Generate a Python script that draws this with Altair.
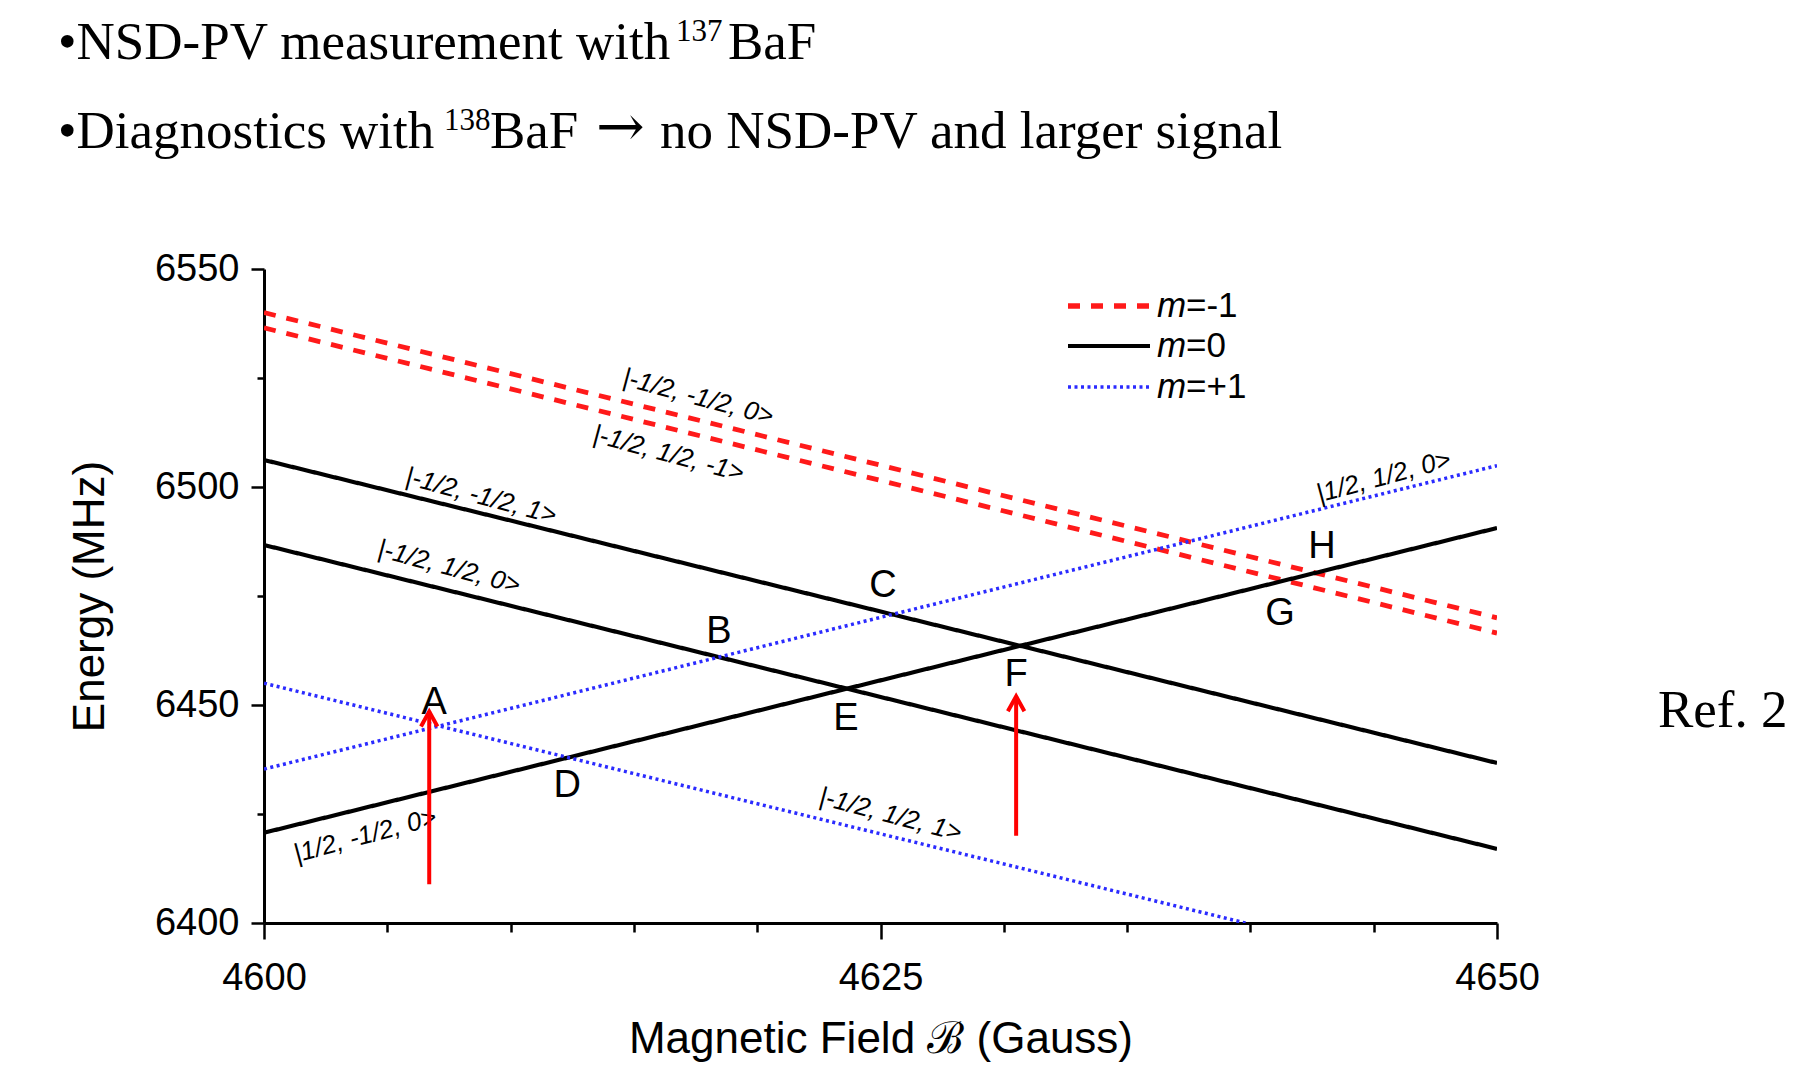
import altair as alt
import pandas as pd

# ---------------- data ----------------
x_domain = [4600, 4650]
y_domain = [6400, 6550]
x_ticks = [4600, 4605, 4610, 4615, 4620, 4625, 4630, 4635, 4640, 4645, 4650]
y_ticks = [6400, 6425, 6450, 6475, 6500, 6525, 6550]

level_names = ["|-1/2, -1/2, 0>", "|-1/2, 1/2, -1>", "|-1/2, -1/2, 1>", "|-1/2, 1/2, 0>",
               "|1/2, -1/2, 0>", "|1/2, 1/2, 0>", "|-1/2, 1/2, 1>"]
level_m = ["m=-1", "m=-1", "m=0", "m=0", "m=0", "m=+1", "m=+1"]
level_b0 = [4600, 4600, 4600, 4600, 4600, 4600, 4600]
level_e0 = [6540.0, 6536.5, 6506.2, 6486.7, 6420.7, 6435.3, 6455.0]
level_b1 = [4650, 4650, 4650, 4650, 4650, 4650, 4639.8]
level_e1 = [6470.0, 6466.5, 6436.7, 6417.0, 6490.6, 6504.9, 6400.0]

label_b = [4617.6, 4616.4, 4608.8, 4607.5, 4604.1, 4645.4, 4625.4]
label_e = [6520.6, 6507.6, 6497.9, 6481.6, 6420.0, 6502.3, 6424.8]
label_angle = [15, 15, 15, 15, 345, 345, 15]

cross_names = ["A", "B", "C", "D", "E", "F", "G", "H"]
cross_b = [4606.9, 4618.45, 4625.1, 4612.3, 4623.6, 4630.5, 4641.2, 4642.9]
cross_e = [6450.5, 6466.7, 6477.3, 6431.4, 6446.8, 6456.9, 6470.9, 6486.2]

arrow_b = [4606.7, 4630.5]
arrow_e_tail = [6408.9, 6420.0]
arrow_e_tip = [6448.5, 6452.0]

m_domain = ["m=-1", "m=0", "m=+1"]
m_values = ["=-1", "=0", "=+1"]
m_colors = ["#ff1a1a", "#000000", "#2b2bff"]
m_dash = [[12, 11], [1, 0], [3, 3.5]]
m_width = [4.8, 3.5, 3.0]

# ---------------- tables ----------------
rows = []
for n, m, b0, e0, b1, e1 in zip(level_names, level_m, level_b0, level_e0, level_b1, level_e1):
    rows.append({"name": n, "m": m, "B": b0, "E": e0})
    rows.append({"name": n, "m": m, "B": b1, "E": e1})
lines_df = pd.DataFrame(rows)
labels_df = pd.DataFrame({"text": level_names, "B": label_b, "E": label_e, "angle": label_angle})
cross_df = pd.DataFrame({"text": cross_names, "B": cross_b, "E": cross_e})
arrow_df = pd.DataFrame({"B": arrow_b, "E0": arrow_e_tail, "E1": arrow_e_tip})

W, H = 1233, 654

xscale = alt.Scale(domain=x_domain, nice=False, zero=False)
yscale = alt.Scale(domain=y_domain, nice=False, zero=False)

x_axis = alt.Axis(values=x_ticks, format="d", labelFlush=False,
                  labelExpr="datum.value % 25 === 0 ? datum.label : ''",
                  tickSize={"condition": {"test": "datum.value % 25 === 0", "value": 16}, "value": 9},
                  title="Magnetic Field \u212C (Gauss)", titleFontSize=44, titleFontWeight="normal",
                  titleFont="Liberation Sans", titlePadding=20,
                  labelFont="Liberation Sans", labelFontSize=38, labelPadding=20,
                  labelColor="black", titleColor="black", domainColor="black", tickColor="black",
                  domainWidth=3, tickWidth=2.5, grid=False)
y_axis = alt.Axis(values=y_ticks, format="d", labelFlush=False,
                  labelExpr="datum.value % 50 === 0 ? datum.label : ''",
                  tickSize={"condition": {"test": "datum.value % 50 === 0", "value": 13}, "value": 7},
                  title="Energy (MHz)", titleFontSize=44, titleFontWeight="normal",
                  titleFont="Liberation Sans", titlePadding=42,
                  labelFont="Liberation Sans", labelFontSize=38, labelPadding=12,
                  labelColor="black", titleColor="black", domainColor="black", tickColor="black",
                  domainWidth=3, tickWidth=2.5, grid=False)

lines = alt.Chart(lines_df).mark_line(clip=True).encode(
    x=alt.X("B:Q", scale=xscale, axis=x_axis),
    y=alt.Y("E:Q", scale=yscale, axis=y_axis),
    detail="name:N",
    color=alt.Color("m:N", scale=alt.Scale(domain=m_domain, range=m_colors), legend=None),
    strokeDash=alt.StrokeDash("m:N", scale=alt.Scale(domain=m_domain, range=m_dash), legend=None),
    strokeWidth=alt.StrokeWidth("m:N", scale=alt.Scale(domain=m_domain, range=m_width), legend=None),
)

level_labels = alt.Chart(labels_df).mark_text(
    font="Liberation Sans", fontSize=26, fontStyle="italic", color="black"
).encode(
    x=alt.X("B:Q", scale=xscale), y=alt.Y("E:Q", scale=yscale),
    text="text:N", angle=alt.Angle("angle:Q", scale=None),
)

cross_labels = alt.Chart(cross_df).mark_text(
    font="Liberation Sans", fontSize=38, color="black"
).encode(x=alt.X("B:Q", scale=xscale), y=alt.Y("E:Q", scale=yscale), text="text:N")

arrow_shaft = alt.Chart(arrow_df).mark_rule(color="#ff0000", strokeWidth=4).encode(
    x=alt.X("B:Q", scale=xscale), y=alt.Y("E0:Q", scale=yscale), y2="E1:Q")
arrow_head = alt.Chart(arrow_df).mark_point(
    shape="M -0.55 1 L 0 0 L 0.55 1", filled=False, color="#ff0000", strokeWidth=4,
    size=900, opacity=1
).encode(x=alt.X("B:Q", scale=xscale), y=alt.Y("E1:Q", scale=yscale))

# manual legend
leg_rows = []
for i, (m, c, d, w) in enumerate(zip(m_domain, m_colors, m_dash, m_width)):
    yv = [37, 77, 118][i]
    rule = alt.Chart(pd.DataFrame({"m": [m]})).mark_rule(
        color=c, strokeDash=d, strokeWidth=w + 0.5
    ).encode(x=alt.value(804), x2=alt.value(886), y=alt.value(yv))
    mtxt = alt.Chart(pd.DataFrame({"t": ["m"]})).mark_text(
        font="Liberation Sans", fontSize=35, fontStyle="italic", align="left", baseline="middle", color="black"
    ).encode(x=alt.value(893), y=alt.value(yv), text="t:N")
    vtxt = alt.Chart(pd.DataFrame({"t": [m_values[i]]})).mark_text(
        font="Liberation Sans", fontSize=35, align="left", baseline="middle", color="black"
    ).encode(x=alt.value(922), y=alt.value(yv), text="t:N")
    leg_rows += [rule, mtxt, vtxt]

# slide text
def txt(s, x, y, size, font="Liberation Serif"):
    return alt.Chart(pd.DataFrame({"t": [s]})).mark_text(
        font=font, fontSize=size, align="left", baseline="alphabetic", color="black"
    ).encode(x=alt.value(x), y=alt.value(y), text="t:N")

ox, oy = 264, 269
slide = [
    txt("\u2022NSD-PV measurement with", 58 - ox, 59 - oy, 53),
    txt("137", 676 - ox, 41 - oy, 31),
    txt("BaF", 728 - ox, 59 - oy, 53),
    txt("\u2022Diagnostics with", 58 - ox, 148 - oy, 53),
    txt("138", 444 - ox, 130 - oy, 31),
    txt("BaF", 490 - ox, 148 - oy, 53),
    txt("\u2192", 596 - ox, 146 - oy, 58, font="DejaVu Serif"),
    txt("no NSD-PV and larger signal", 660 - ox, 148 - oy, 53),
    txt("Ref. 2", 1658 - ox, 727 - oy, 53),
]

chart = alt.layer(lines, level_labels, cross_labels, arrow_shaft, arrow_head, *leg_rows, *slide).properties(
    width=W, height=H, background="white",
    autosize=alt.AutoSizeParams(type="none"),
    padding={"left": ox, "top": oy, "right": 1816 - ox - W, "bottom": 1072 - oy - H},
).configure_view(stroke=None)

chart.save("out.html", embed_options={"renderer": "svg", "actions": False})
